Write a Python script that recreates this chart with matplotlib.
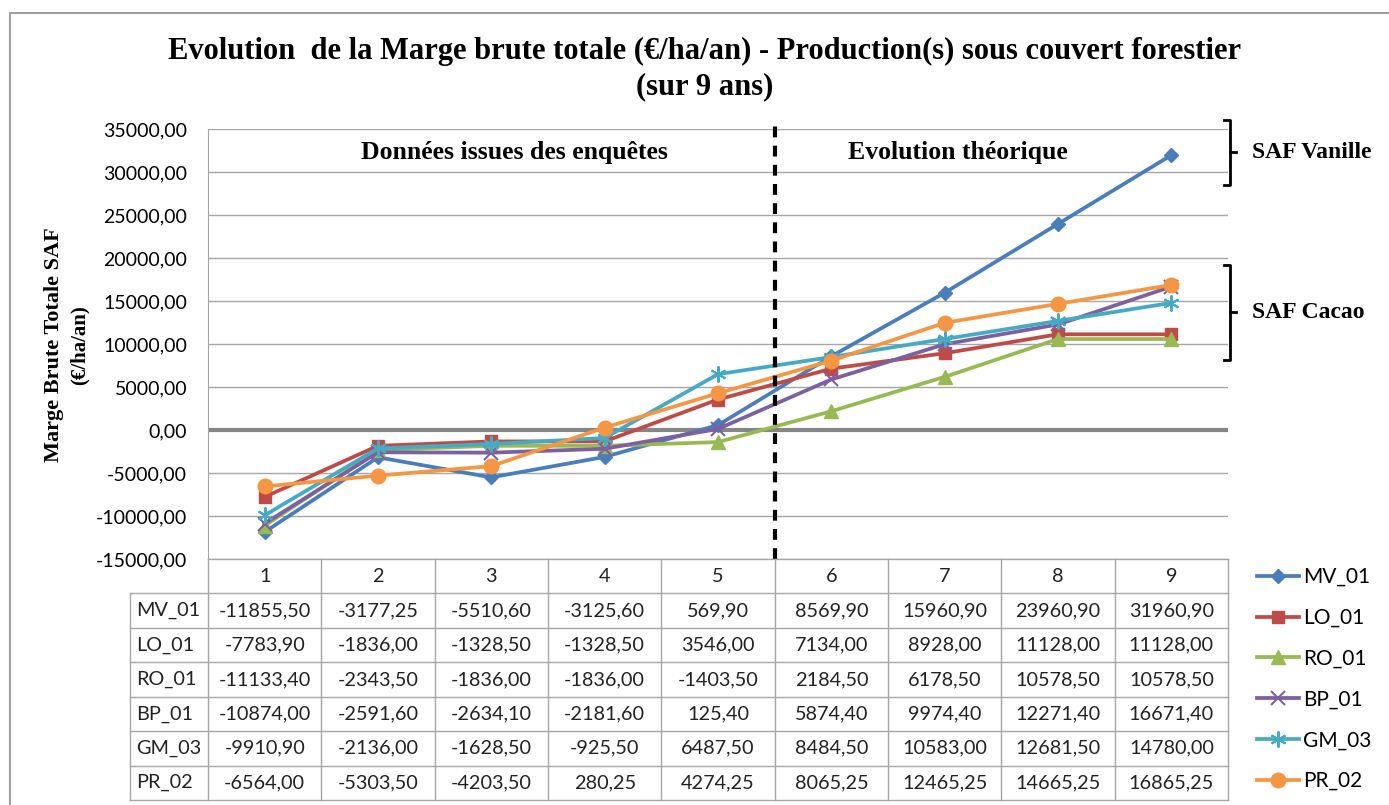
import matplotlib
matplotlib.use("Agg")
import matplotlib.pyplot as plt
from matplotlib.lines import Line2D

# data (€/ha/an) over 9 years
annees = [1, 2, 3, 4, 5, 6, 7, 8, 9]
series = ["MV_01", "LO_01", "RO_01", "BP_01", "GM_03", "PR_02"]
mv_01 = [-11855.50, -3177.25, -5510.60, -3125.60, 569.90, 8569.90, 15960.90, 23960.90, 31960.90]
lo_01 = [-7783.90, -1836.00, -1328.50, -1328.50, 3546.00, 7134.00, 8928.00, 11128.00, 11128.00]
ro_01 = [-11133.40, -2343.50, -1836.00, -1836.00, -1403.50, 2184.50, 6178.50, 10578.50, 10578.50]
bp_01 = [-10874.00, -2591.60, -2634.10, -2181.60, 125.40, 5874.40, 9974.40, 12271.40, 16671.40]
gm_03 = [-9910.90, -2136.00, -1628.50, -925.50, 6487.50, 8484.50, 10583.00, 12681.50, 14780.00]
pr_02 = [-6564.00, -5303.50, -4203.50, 280.25, 4274.25, 8065.25, 12465.25, 14665.25, 16865.25]
valeurs = [mv_01, lo_01, ro_01, bp_01, gm_03, pr_02]
y_ticks = list(range(-15000, 35001, 5000))

couleurs = ["#4A7EBB", "#BE4B48", "#98B954", "#7D60A0", "#46AAC5", "#F59645"]
marqueurs = ["D", "s", "^", "x", (6, 2, 0), "o"]
tailles = [7.5, 8.5, 9.5, 9.5, 11.5, 10.5]

W, H = 1389, 805
fig = plt.figure(figsize=(W / 100, H / 100), dpi=100)
fig.patch.set_facecolor("white")

sans = "Lato"
serif = "Liberation Serif"


def fx(px):
    return px / W


def fy(py):
    return 1 - py / H


# outer frame of the chart
fig.add_artist(plt.Rectangle((fx(10), fy(900)), fx(1500), fy(13) - fy(900),
                             transform=fig.transFigure, fill=False,
                             edgecolor="#A0A0A0", lw=1.5))

# title
fig.text(fx(705), fy(51), "Evolution  de la Marge brute totale (€/ha/an) - Production(s) sous couvert forestier",
         ha="center", va="center", fontsize=22, fontweight="bold", family=serif)
fig.text(fx(705), fy(87), "(sur 9 ans)", ha="center", va="center",
         fontsize=22, fontweight="bold", family=serif)

# main axes
ax = fig.add_axes([fx(208), fy(559), fx(1228) - fx(208), fy(129) - fy(559)])
ax.set_xlim(0.5, 9.5)
ax.set_ylim(-15000, 35000)
ax.set_yticks(y_ticks)
ax.set_yticklabels([f"{v:.2f}".replace(".", ",") for v in y_ticks], family=sans, fontsize=14)
ax.tick_params(axis="y", length=0, pad=15)
ax.set_xticks([])
ax.grid(axis="y", color="#A6A6A6", lw=1)
ax.set_axisbelow(True)
for s in ["top", "right", "bottom"]:
    ax.spines[s].set_visible(False)
ax.spines["left"].set_color("#A6A6A6")
ax.axhline(0, color="#868686", lw=3, zorder=1)

for nom, vals, c, m, ms in zip(series, valeurs, couleurs, marqueurs, tailles):
    mew = 1.5 if m in ("x", (6, 2, 0)) else 1
    ax.plot(annees, vals, color=c, lw=2.7, marker=m, markersize=ms,
            markeredgewidth=mew, label=nom, zorder=3)

ax.axvline(5.5, ymin=0, ymax=1.02, color="black", lw=3, ls=(0, (2.6, 2)), clip_on=False, zorder=4)

ax.text(3.2, 32300, "Données issues des enquêtes", ha="center", va="center",
        fontsize=18.5, fontweight="bold", family=serif)
ax.text(7.12, 32300, "Evolution théorique", ha="center", va="center",
        fontsize=18.5, fontweight="bold", family=serif)

fig.text(fx(54), fy(345), "Marge Brute Totale SAF", rotation=90, ha="center", va="center",
         fontsize=16, fontweight="bold", family=serif)
fig.text(fx(80), fy(345), "(€/ha/an)", rotation=90, ha="center", va="center",
         fontsize=15, fontweight="bold", family=serif)

# brackets on the right
for (y0, y1, lab) in [(120, 185, "SAF Vanille"), (265, 360, "SAF Cacao")]:
    xb = 1230
    ym = (y0 + y1) / 2
    fig.add_artist(Line2D([fx(xb - 6), fx(xb), fx(xb), fx(xb - 6)],
                          [fy(y0), fy(y0), fy(y1), fy(y1)],
                          transform=fig.transFigure, color="black", lw=2))
    fig.add_artist(Line2D([fx(xb), fx(xb + 6)], [fy(ym), fy(ym)],
                          transform=fig.transFigure, color="black", lw=2))
    fig.text(fx(1252), fy(ym), lab, ha="left", va="center", fontsize=17,
             fontweight="bold", family=serif)

# data table under the plot
tab = fig.add_axes([fx(208), fy(800), fx(1228) - fx(208), fy(559) - fy(800)])
tab.set_xlim(0.5, 9.5)
tab.set_ylim(7, 0)
tab.axis("off")
gris = "#A6A6A6"
x_gauche = 0.5 + (130 - 208) / (1020 / 9)
# horizontal lines
tab.plot([0.5, 9.5], [0, 0], color=gris, lw=1, clip_on=False)
for r in range(1, 8):
    tab.plot([x_gauche, 9.5], [r, r], color=gris, lw=1, clip_on=False)
# vertical lines
for k in range(10):
    tab.plot([0.5 + k, 0.5 + k], [0, 7], color=gris, lw=1, clip_on=False)
tab.plot([x_gauche, x_gauche], [1, 7], color=gris, lw=1, clip_on=False)
for a in annees:
    tab.text(a, 0.5, str(a), ha="center", va="center", fontsize=14.3, family=sans, color="#222222")
for i, (nom, vals) in enumerate(zip(series, valeurs)):
    tab.text(x_gauche + 0.05, i + 1.5, nom, ha="left", va="center", fontsize=14.3,
             family=sans, color="#222222", clip_on=False)
    for a, v in zip(annees, vals):
        tab.text(a, i + 1.5, f"{v:.2f}".replace(".", ","), ha="center", va="center",
                 fontsize=14.3, family=sans, color="#222222")

# legend
h, l = ax.get_legend_handles_labels()
fig.legend(h, l, loc="upper left", bbox_to_anchor=(fx(1257), fy(567)), frameon=False,
           prop={"family": sans, "size": 15}, handlelength=2.0, handletextpad=0.2,
           labelspacing=1.0, borderpad=0, borderaxespad=0)

fig.savefig("out.png", dpi=100, facecolor="white")
